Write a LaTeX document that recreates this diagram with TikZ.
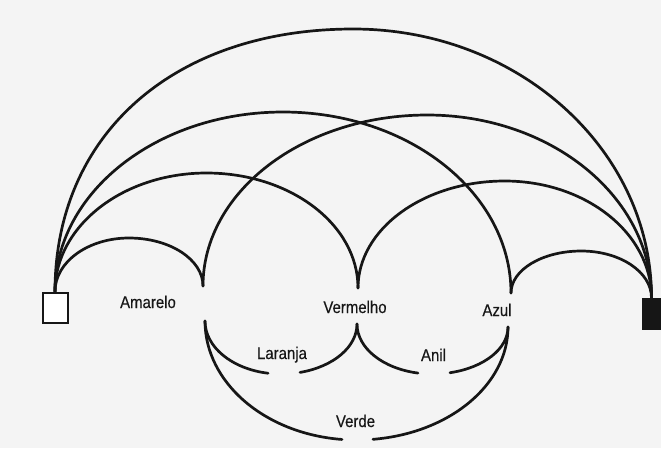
\documentclass[tikz,border=0pt]{standalone}
\usepackage{fontspec}
\newfontfamily\lblfont[FakeStretch=0.88,FakeBold=0.3]{Liberation Sans}
\usetikzlibrary{calc}
\definecolor{ink}{RGB}{22,22,22}
\definecolor{paper}{RGB}{244,244,244}
% upper half-ellipse from #2 to #3 whose top is at canvas height #4;
% #1 = fullness of the left half
\newcommand\uparch[4][0.5523]{%
  \draw[arcline] let \p1=(#2), \p2=(#3), \n1={0.5*(\x1+\x2)}, \n2={#4},
    \n3={\y1}, \n4={\y2}, \n5={\x1}, \n6={\x2} in
    (\p1) .. controls (\n5,{\n3+#1*(\n2-(\n3))}) and ({\n1-#1*(\n1-(\n5))},\n2) .. (\n1,\n2)
          .. controls ({\n1+0.5523*(\n6-(\n1))},\n2) and (\n6,{\n4+0.5523*(\n2-(\n4))}) .. (\p2);}
\begin{document}
\begin{tikzpicture}[x=1pt,y=1pt,
  arcline/.style={draw=ink,line width=2.7pt,line cap=round},
  lbl/.style={font=\lblfont\fontsize{17}{20}\selectfont,text=ink,inner sep=0pt,anchor=base}]
\fill[paper] (0,0) rectangle (661,-448);
\useasboundingbox (0,0) rectangle (661,-448);
% end squares
\node[draw=ink,line width=2pt,fill=white,minimum width=25pt,minimum height=30pt,inner sep=0pt] (Lsq) at (55,-307.5) {};
\node[fill=ink,minimum width=19pt,minimum height=32pt,inner sep=0pt] (Rsq) at (651.5,-314) {};
% labels
\node[lbl] (amarelo) at (148,-308) {Amarelo};
\node[lbl] (vermelho) at (355,-313) {Vermelho};
\node[lbl] (azul) at (497,-316) {Azul};
\node[lbl] (laranja) at (282,-359) {Laranja};
\node[lbl] (anil) at (433.5,-361) {Anil};
\node[lbl] (verde) at (355.5,-427) {Verde};
% meeting points above and below the labels
\coordinate (amU) at (203,-286);
\coordinate (veU) at (358,-288);
\coordinate (azU) at (511,-293);
\coordinate (amL) at (205,-321);
\coordinate (veL) at (357,-324);
\coordinate (azL) at (508,-327);
% upper arcs
\uparch{Lsq.north}{amU}{-238}
\uparch{Lsq.north}{veU}{-173}
\uparch{Lsq.north}{azU}{-112}
\uparch[0.6]{Lsq.north}{Rsq.north}{-29}
\uparch{amU}{Rsq.north}{-115}
\uparch{veU}{Rsq.north}{-181}
\uparch{azU}{Rsq.north}{-251}
% lower arcs, open at the bottom
\draw[arcline] (amL) arc[start angle=180,end angle=260.2,x radius=76,y radius=53];
\draw[arcline] (veL) arc[start angle=360,end angle=284.5,x radius=76,y radius=50];
\draw[arcline] (veL) arc[start angle=180,end angle=258.9,x radius=75.5,y radius=50];
\draw[arcline] (azL) arc[start angle=360,end angle=283.4,x radius=75.5,y radius=47];
\draw[arcline] (amL) arc[start angle=180,end angle=264.5,x radius=151.5,y radius=119];
\draw[arcline] (azL) arc[start angle=360,end angle=276.25,x radius=151.5,y radius=113];
\end{tikzpicture}
\end{document}
